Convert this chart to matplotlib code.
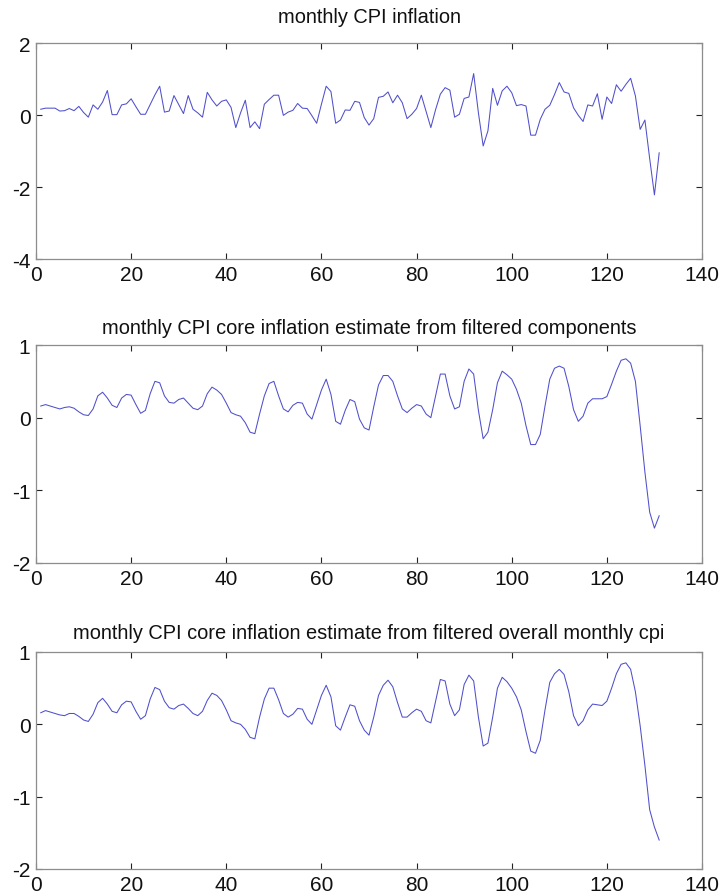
import numpy as np
import matplotlib
matplotlib.use("Agg")
import matplotlib.pyplot as plt

plt.rcParams['font.family'] = ['Liberation Sans', 'DejaVu Sans']
plt.rcParams['axes.unicode_minus'] = False

titles = [
    "monthly CPI inflation",
    "monthly CPI core inflation estimate from filtered components",
    "monthly CPI core inflation estimate from filtered overall monthly cpi",
]

cpi_inflation = [
    0.16, 0.19, 0.19, 0.19, 0.11, 0.12, 0.18, 0.12, 0.24, 0.07,
    -0.06, 0.28, 0.16, 0.36, 0.68, 0.01, 0.01, 0.28, 0.31, 0.45,
    0.23, 0.02, 0.02, 0.29, 0.56, 0.80, 0.08, 0.11, 0.54, 0.29,
    0.04, 0.54, 0.16, 0.06, -0.06, 0.63, 0.42, 0.25, 0.38, 0.42,
    0.21, -0.35, 0.06, 0.41, -0.35, -0.19, -0.38, 0.30, 0.43, 0.55,
    0.55, -0.01, 0.08, 0.13, 0.32, 0.19, 0.18, -0.02, -0.23, 0.30,
    0.80, 0.65, -0.23, -0.14, 0.14, 0.13, 0.38, 0.35, -0.07, -0.28,
    -0.10, 0.49, 0.52, 0.64, 0.34, 0.55, 0.34, -0.10, 0.02, 0.18,
    0.55, 0.10, -0.35, 0.15, 0.58, 0.76, 0.69, -0.06, 0.02, 0.46,
    0.50, 1.15, 0.06, -0.86, -0.44, 0.74, 0.27, 0.67, 0.80, 0.62,
    0.26, 0.29, 0.25, -0.56, -0.56, -0.12, 0.16, 0.27, 0.57, 0.90,
    0.64, 0.60, 0.20, -0.01, -0.18, 0.28, 0.25, 0.59, -0.12, 0.50,
    0.32, 0.84, 0.66, 0.85, 1.02, 0.53, -0.40, -0.14, -1.21, -2.22,
    -1.05,
]

core_components = [
    0.16, 0.18, 0.16, 0.14, 0.12, 0.14, 0.15, 0.13, 0.08, 0.04,
    0.03, 0.12, 0.30, 0.35, 0.27, 0.17, 0.14, 0.27, 0.32, 0.31,
    0.18, 0.06, 0.10, 0.33, 0.50, 0.48, 0.30, 0.21, 0.20, 0.25,
    0.27, 0.20, 0.13, 0.11, 0.16, 0.33, 0.42, 0.38, 0.32, 0.20,
    0.07, 0.04, 0.02, -0.07, -0.20, -0.22, 0.05, 0.30, 0.47, 0.50,
    0.30, 0.12, 0.08, 0.17, 0.21, 0.20, 0.05, -0.02, 0.18, 0.38,
    0.53, 0.32, -0.05, -0.09, 0.10, 0.25, 0.22, -0.02, -0.14, -0.17,
    0.15, 0.45, 0.58, 0.58, 0.50, 0.30, 0.12, 0.07, 0.13, 0.18,
    0.16, 0.05, 0.00, 0.30, 0.60, 0.60, 0.30, 0.12, 0.15, 0.50,
    0.67, 0.60, 0.10, -0.29, -0.20, 0.11, 0.48, 0.64, 0.59, 0.53,
    0.39, 0.20, -0.11, -0.37, -0.37, -0.23, 0.16, 0.53, 0.68, 0.71,
    0.68, 0.43, 0.11, -0.05, 0.02, 0.20, 0.26, 0.26, 0.26, 0.29,
    0.46, 0.64, 0.79, 0.81, 0.75, 0.50, -0.11, -0.75, -1.30, -1.52,
    -1.35,
]

core_overall = [
    0.16, 0.19, 0.17, 0.15, 0.13, 0.12, 0.15, 0.15, 0.11, 0.06,
    0.04, 0.14, 0.30, 0.36, 0.28, 0.18, 0.16, 0.27, 0.32, 0.31,
    0.18, 0.07, 0.12, 0.35, 0.51, 0.48, 0.32, 0.23, 0.21, 0.26,
    0.28, 0.22, 0.15, 0.12, 0.18, 0.33, 0.43, 0.40, 0.33, 0.20,
    0.05, 0.02, 0.00, -0.07, -0.18, -0.20, 0.10, 0.35, 0.50, 0.50,
    0.34, 0.15, 0.10, 0.14, 0.22, 0.21, 0.07, 0.00, 0.20, 0.40,
    0.54, 0.38, -0.02, -0.08, 0.10, 0.27, 0.25, 0.05, -0.08, -0.15,
    0.10, 0.40, 0.54, 0.61, 0.52, 0.30, 0.10, 0.10, 0.16, 0.21,
    0.18, 0.05, 0.02, 0.32, 0.62, 0.60, 0.28, 0.12, 0.20, 0.55,
    0.68, 0.60, 0.10, -0.30, -0.26, 0.10, 0.50, 0.65, 0.59, 0.50,
    0.38, 0.20, -0.10, -0.37, -0.40, -0.22, 0.20, 0.58, 0.70, 0.76,
    0.69, 0.45, 0.12, -0.02, 0.05, 0.20, 0.28, 0.27, 0.26, 0.32,
    0.50, 0.70, 0.83, 0.85, 0.76, 0.45, -0.02, -0.57, -1.18, -1.42,
    -1.60,
]

series = [cpi_inflation, core_components, core_overall]
yticks = [[-4, -2, 0, 2], [-2, -1, 0, 1], [-2, -1, 0, 1]]
xticks = [0, 20, 40, 60, 80, 100, 120, 140]

W, H = 722, 895
fig = plt.figure(figsize=(W / 100, H / 100), dpi=100)
fig.patch.set_facecolor('white')

# axes boxes in pixels: (left, top, right, bottom)
boxes = [(36, 44, 702, 260), (36, 346, 702, 564), (36, 653, 702, 870)]
pads = [15, 9, 10]

for data, yt, title, (l, t, r, b), pad in zip(series, yticks, titles, boxes, pads):
    ax = fig.add_axes([l / W, 1 - b / H, (r - l) / W, (b - t) / H])
    x = np.arange(1, len(data) + 1)
    ax.plot(x, data, color='#4f4fcc', linewidth=0.75)
    ax.set_xlim(0, 140)
    ax.set_ylim(yt[0], yt[-1])
    ax.set_xticks(xticks)
    ax.set_yticks(yt)
    ax.tick_params(direction='in', length=4, width=0.8, color='#222222',
                   top=True, right=True, labelsize=15, pad=4,
                   labelcolor='#111111')
    for s in ax.spines.values():
        s.set_color('#8c8c8c')
        s.set_linewidth(0.9)
    ax.set_title(title, fontsize=14.4, pad=pad, color='#111111')

fig.savefig('out.png', dpi=100, facecolor='white')
